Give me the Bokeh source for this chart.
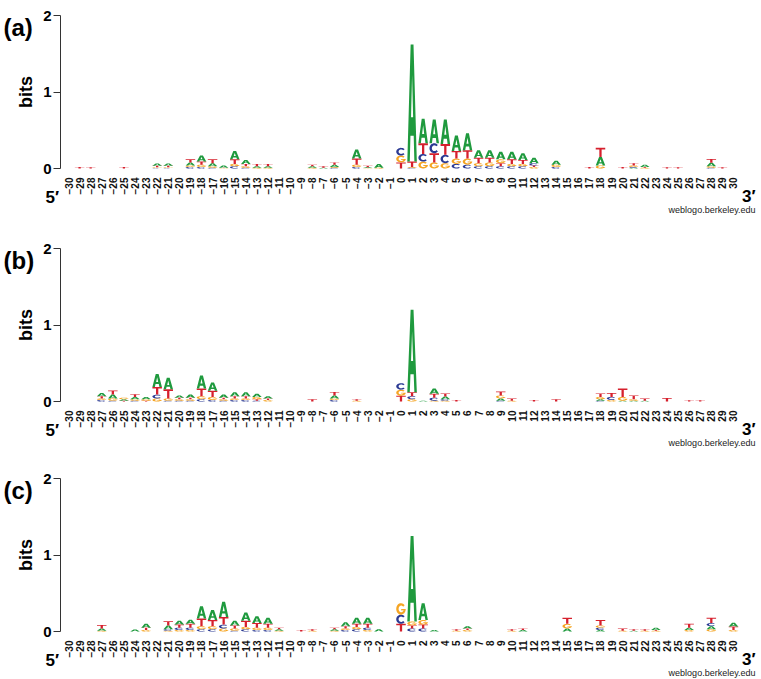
import numpy as np
from bokeh.plotting import figure
from bokeh.models import FixedTicker, Label, Range1d, ColumnDataSource
from bokeh.layouts import column
from bokeh.embed import file_html
from bokeh.resources import INLINE

positions = list(range(-30, 31))

# ---- panel (a): information (bits) of each base at each position ----
a_A = [0, 0, 0, 0, 0, 0, 0, 0, 0.03, 0.03, 0, 0.04, 0.08, 0.04, 0.03, 0.11, 0.05, 0.02, 0.02, 0, 0,
       0, 0.02, 0.01, 0.03, 0, 0.12, 0.01, 0.05, 0,
       0, 1.53, 0.32, 0.31, 0.32, 0.20, 0.22, 0.10, 0.10, 0.10, 0.10, 0.09, 0.07, 0, 0.05, 0, 0, 0, 0.11, 0,
       0, 0.01, 0.03, 0, 0, 0, 0, 0, 0.045, 0, 0]
a_C = [0, 0, 0, 0, 0, 0, 0, 0, 0.005, 0.005, 0, 0.02, 0.02, 0.01, 0, 0.03, 0.01, 0, 0, 0, 0,
       0, 0, 0, 0.01, 0, 0.02, 0, 0, 0,
       0.10, 0.01, 0.10, 0.13, 0.11, 0.06, 0.05, 0.03, 0.03, 0.03, 0.03, 0.03, 0.03, 0, 0.02, 0, 0, 0, 0, 0,
       0, 0.01, 0, 0, 0, 0, 0, 0, 0.01, 0, 0]
a_G = [0, 0, 0, 0, 0, 0, 0, 0, 0.01, 0.01, 0, 0.02, 0.03, 0.02, 0.005, 0.03, 0.02, 0.01, 0.01, 0, 0,
       0, 0.01, 0, 0.01, 0, 0.03, 0.005, 0.01, 0,
       0.09, 0.01, 0.09, 0.08, 0.07, 0.07, 0.08, 0.04, 0.05, 0.05, 0.03, 0.03, 0.02, 0, 0.03, 0, 0, 0, 0.04, 0,
       0, 0.02, 0.01, 0, 0, 0, 0, 0, 0.02, 0, 0]
a_T = [0, 0.02, 0.015, 0, 0, 0.02, 0, 0, 0.02, 0.02, 0, 0.04, 0.04, 0.05, 0.005, 0.06, 0.03, 0.03, 0.03, 0, 0,
       0, 0.02, 0.02, 0.03, 0, 0.08, 0.02, 0, 0,
       0.08, 0.07, 0.14, 0.12, 0.14, 0.10, 0.11, 0.07, 0.06, 0.04, 0.06, 0.05, 0.02, 0, 0, 0, 0, 0.02, 0.12, 0,
       0.02, 0.03, 0.01, 0, 0.015, 0.015, 0, 0, 0.05, 0.015, 0]

# ---- panel (b) ----
b_A = [0, 0, 0, 0.04, 0.05, 0.02, 0.03, 0.03, 0.17, 0.15, 0.03, 0.04, 0.17, 0.11, 0.04, 0.05, 0.05, 0.04, 0.03, 0, 0,
       0, 0, 0, 0.04, 0, 0, 0, 0, 0,
       0, 1.08, 0.01, 0.07, 0.035, 0, 0, 0, 0, 0.03, 0, 0, 0, 0, 0, 0, 0, 0, 0.02, 0,
       0.01, 0.01, 0.01, 0, 0, 0, 0, 0, 0, 0, 0]
b_C = [0, 0, 0, 0.02, 0.01, 0, 0.01, 0, 0.05, 0.01, 0.01, 0.01, 0.03, 0.02, 0.01, 0.02, 0.02, 0.01, 0, 0, 0,
       0, 0, 0, 0.02, 0, 0, 0, 0, 0,
       0.085, 0.04, 0, 0.04, 0.02, 0, 0, 0, 0, 0.01, 0, 0, 0, 0, 0, 0, 0, 0, 0.01, 0.04,
       0, 0, 0, 0, 0, 0, 0, 0, 0, 0, 0]
b_G = [0, 0, 0, 0.02, 0.03, 0.02, 0.02, 0.02, 0.04, 0.03, 0.02, 0.02, 0.04, 0.04, 0.02, 0.02, 0.02, 0.03, 0.02, 0, 0,
       0, 0, 0, 0.02, 0, 0.01, 0, 0, 0,
       0.08, 0.03, 0, 0.01, 0.01, 0, 0, 0, 0, 0.04, 0.01, 0, 0, 0, 0, 0, 0, 0, 0.03, 0.02,
       0.05, 0.02, 0, 0, 0, 0, 0, 0, 0, 0, 0]
b_T = [0, 0, 0, 0.03, 0.055, 0.01, 0.035, 0.01, 0.10, 0.12, 0.02, 0.02, 0.10, 0.08, 0.02, 0.03, 0.03, 0.02, 0.02, 0, 0,
       0, 0.03, 0, 0.045, 0, 0.02, 0, 0, 0,
       0.075, 0.05, 0, 0.05, 0.04, 0.02, 0, 0, 0, 0.05, 0.03, 0, 0.02, 0, 0.03, 0, 0, 0, 0.045, 0.05,
       0.11, 0.05, 0.03, 0, 0.045, 0, 0.015, 0.015, 0, 0, 0]

# ---- panel (c) ----
c_A = [0, 0, 0, 0.03, 0, 0, 0.025, 0.05, 0, 0.05, 0.05, 0.055, 0.16, 0.13, 0.20, 0.06, 0.11, 0.09, 0.08, 0.02, 0,
       0, 0, 0, 0.02, 0.05, 0.08, 0.08, 0.03, 0,
       0, 1.12, 0.22, 0.02, 0, 0, 0.03, 0, 0, 0, 0, 0.02, 0, 0, 0, 0.04, 0, 0, 0.02, 0,
       0, 0.01, 0, 0.03, 0, 0, 0.03, 0, 0.04, 0, 0.05]
c_C = [0, 0, 0, 0, 0, 0, 0, 0, 0, 0.02, 0.03, 0.03, 0.03, 0.03, 0.05, 0.01, 0.03, 0.02, 0.02, 0, 0,
       0, 0, 0, 0, 0.02, 0.03, 0.03, 0, 0,
       0.12, 0.04, 0.04, 0, 0, 0, 0, 0, 0, 0, 0, 0, 0, 0, 0, 0, 0, 0, 0.03, 0,
       0, 0, 0, 0, 0, 0, 0, 0, 0.04, 0, 0]
c_G = [0, 0, 0, 0.01, 0, 0, 0, 0.02, 0, 0.01, 0.02, 0.02, 0.04, 0.04, 0.04, 0.03, 0.03, 0.03, 0.03, 0.01, 0,
       0, 0.01, 0, 0.01, 0.02, 0.03, 0.02, 0, 0,
       0.15, 0.05, 0.06, 0, 0, 0.01, 0.02, 0, 0, 0, 0.01, 0, 0, 0, 0, 0.06, 0, 0, 0.03, 0,
       0.01, 0, 0.01, 0.01, 0, 0, 0.02, 0, 0.03, 0, 0.02]
c_T = [0, 0, 0, 0.045, 0, 0, 0, 0.03, 0, 0.055, 0.04, 0.05, 0.10, 0.08, 0.10, 0.04, 0.08, 0.06, 0.05, 0.02, 0,
       0.02, 0.02, 0, 0.02, 0.03, 0.04, 0.05, 0, 0,
       0.10, 0.04, 0.05, 0, 0, 0.02, 0.02, 0, 0, 0, 0.02, 0.02, 0, 0, 0, 0.08, 0, 0, 0.07, 0,
       0.03, 0.02, 0.02, 0.01, 0, 0, 0.05, 0, 0.07, 0, 0.045]

panel_tags = ["(a)", "(b)", "(c)"]
panel_counts = [{"A": a_A, "C": a_C, "G": a_G, "T": a_T},
                {"A": b_A, "C": b_C, "G": b_G, "T": b_T},
                {"A": c_A, "C": c_C, "G": c_G, "T": c_T}]

COLORS = {"A": "#1f9a3e", "C": "#2b3a93", "G": "#f5a524", "T": "#d6202d"}
FONT = "Liberation Sans"

# ---- layout (pixels) ----
W = 761
HEIGHTS = [233, 230, 216]
ZERO_Y = 168.0          # pixel row of 0 bits, from each panel's top
PX_PER_BIT = 76.5
AXIS_X = 60.0           # pixel column of the y axis line
FIRST_X = 68.0          # pixel column of position -30
PX_PER_POS = 11.083
LETTER_W = 0.86


def arc(cx, cy, rx, ry, a0, a1, n=28):
    t = np.radians(np.linspace(a0, a1, n))
    return list(cx + rx * np.cos(t)), list(cy + ry * np.sin(t))


def letter_rings(ch):
    if ch == "A":
        outer = ([0, 0.35, 0.65, 1, 0.74, 0.67, 0.33, 0.26], [0, 1, 1, 0, 0, 0.22, 0.22, 0])
        hole = ([0.39, 0.61, 0.5], [0.38, 0.38, 0.74])
        return [outer, hole]
    if ch == "T":
        return [([0, 1, 1, 0.62, 0.62, 0.38, 0.38, 0], [1, 1, 0.81, 0.81, 0, 0, 0.81, 0.81])]
    if ch == "C":
        ox, oy = arc(0.5, 0.5, 0.5, 0.5, 40, 320)
        ix, iy = arc(0.52, 0.5, 0.27, 0.29, 320, 40)
        return [(ox + ix, oy + iy)]
    ox, oy = arc(0.5, 0.5, 0.5, 0.5, 40, 360)
    ix, iy = arc(0.52, 0.5, 0.27, 0.29, 335, 40)
    return [(ox + [0.52, 0.52] + ix, oy + [0.5, 0.36] + iy)]


SHAPES = {ch: letter_rings(ch) for ch in "ACGT"}


def logo_source(counts):
    xs, ys, cols = [], [], []
    for i, pos in enumerate(positions):
        stack = sorted(((counts[ch][i], ch) for ch in "ACGT"), key=lambda t: t[0])
        base = 0.0
        for h, ch in stack:
            if h <= 0:
                continue
            rx, ry = [], []
            for sx, sy in SHAPES[ch]:
                rx.append([pos - LETTER_W / 2 + LETTER_W * v for v in sx])
                ry.append([base + h * v for v in sy])
            xs.append([rx])
            ys.append([ry])
            cols.append(COLORS[ch])
            base += h
    return ColumnDataSource(dict(xs=xs, ys=ys, color=cols))


def px_to_x(px):
    return positions[0] + (px - FIRST_X) / PX_PER_POS


def make_panel(tag, counts, H):
    x_rng = Range1d(px_to_x(0), px_to_x(W))
    y_rng = Range1d(-(H - ZERO_Y) / PX_PER_BIT, ZERO_Y / PX_PER_BIT)
    p = figure(width=W, height=H, title=None, x_range=x_rng, y_range=y_rng,
               output_backend="svg", toolbar_location=None,
               min_border_left=0, min_border_right=0, min_border_top=0, min_border_bottom=0)
    p.outline_line_color = None
    p.grid.visible = False
    p.background_fill_color = "white"

    p.multi_polygons(xs="xs", ys="ys", fill_color="color", line_color=None,
                     source=logo_source(counts))

    xa = p.xaxis[0]
    xa.fixed_location = 0
    xa.ticker = FixedTicker(ticks=positions)
    xa.major_label_orientation = np.pi / 2
    xa.axis_line_color = None
    xa.major_tick_line_color = None
    xa.minor_tick_line_color = None
    xa.major_label_standoff = 3
    xa.major_label_text_font = FONT
    xa.major_label_text_font_size = "10px"
    xa.major_label_text_font_style = "bold"
    xa.major_label_text_color = "#111111"

    ya = p.yaxis[0]
    ya.fixed_location = px_to_x(AXIS_X)
    ya.bounds = (0, 2)
    ya.ticker = FixedTicker(ticks=[0, 1, 2])
    ya.axis_label = "bits"
    ya.axis_label_text_font = FONT
    ya.axis_label_text_font_size = "18px"
    ya.axis_label_text_font_style = "bold"
    ya.axis_label_text_color = "#000000"
    ya.axis_label_standoff = 4
    ya.major_label_text_font = FONT
    ya.major_label_text_font_size = "15px"
    ya.major_label_text_font_style = "bold"
    ya.major_label_text_color = "#000000"
    ya.major_label_standoff = 2
    ya.major_tick_in = 0
    ya.major_tick_out = 7
    ya.minor_tick_line_color = None
    ya.axis_line_color = "#333333"
    ya.major_tick_line_color = "#333333"

    def lab(x, y_from_top, text, size, align, style="bold", color="#000000"):
        p.add_layout(Label(x=x, y=H - y_from_top, x_units="screen", y_units="screen",
                           text=text, text_font=FONT, text_font_size=size,
                           text_font_style=style, text_color=color,
                           text_align=align, text_baseline="alphabetic"))

    lab(3, 27, tag, "24px", "left")
    lab(45, ZERO_Y + 29, "5\u2032", "17px", "left")
    lab(755, ZERO_Y + 28, "3\u2032", "17px", "right")
    lab(755, ZERO_Y + 41, "weblogo.berkeley.edu", "9px", "right", "normal", "#222222")
    return p


figs = [make_panel(t, c, h) for t, c, h in zip(panel_tags, panel_counts, HEIGHTS)]
layout = column(*figs)
open("out.html", "w").write(file_html(layout, INLINE))
